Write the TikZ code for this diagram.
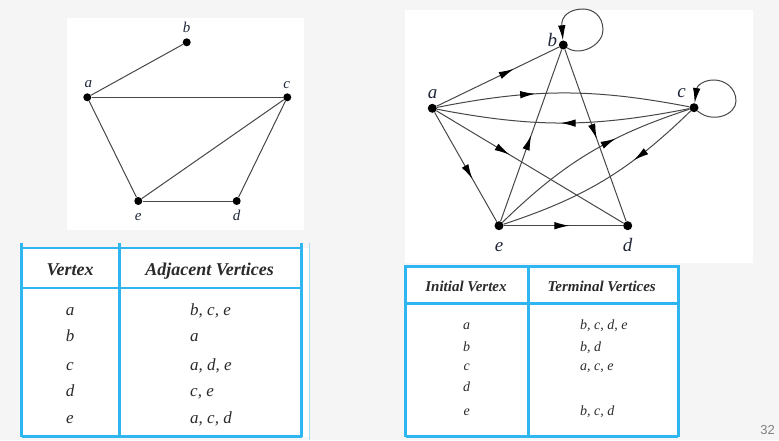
\documentclass[tikz,border=0pt]{standalone}
\usepackage{fontspec}
\setmainfont{Liberation Serif}
\newfontfamily\pgsans{Liberation Sans}
\usetikzlibrary{arrows.meta,decorations.markings}
\definecolor{bg}{HTML}{F5F5F5}
\definecolor{tblue}{HTML}{2FB5EF}
\definecolor{tblue2}{HTML}{A8DCF5}
\definecolor{edgec}{HTML}{474747}
\definecolor{lblc}{HTML}{1E2638}
\definecolor{txtc}{HTML}{2A2A2A}
\begin{document}
\begin{tikzpicture}[x=1pt,y=1pt,
  vtx/.style={circle,fill=black,inner sep=0pt,minimum size=8pt},
  vtxb/.style={circle,fill=black,inner sep=0pt,minimum size=9pt},
  edge/.style={color=edgec,line width=1pt},
  lbl/.style={font=\fontsize{15}{15}\selectfont\itshape,text=lblc,inner sep=0pt,anchor=base},
  lblb/.style={font=\fontsize{19}{19}\selectfont\itshape,text=lblc,inner sep=0pt,anchor=base},
  midarrow/.style={postaction={decorate},decoration={markings,mark=at position #1 with {\arrow[black]{Latex[length=15pt,width=7.5pt]}}}},
  tline/.style={draw=tblue,line width=2.5pt},
  thdL/.style={font=\fontsize{18}{18}\selectfont\bfseries\itshape,text=txtc,inner sep=0pt,anchor=base},
  tentL/.style={font=\fontsize{17}{17}\selectfont\itshape,text=txtc,inner sep=0pt,anchor=base},
  thdR/.style={font=\fontsize{15}{15}\selectfont\bfseries\itshape,text=txtc,inner sep=0pt,anchor=base},
  tentR/.style={font=\fontsize{14}{14}\selectfont\itshape,text=txtc,inner sep=0pt,anchor=base},
  loopend/.style={-{Latex[length=15pt,width=7.5pt,color=black]}}
]
\useasboundingbox (0,0) rectangle (779,440);
\fill[bg] (0,0) rectangle (779,440);
% panels
\fill[white] (67,210) rectangle (304,422);
\fill[white] (405,177) rectangle (753,430);

% ---------- undirected graph ----------
\node[vtx] (ua) at (87.3,342.7) {};
\node[vtx] (ub) at (186.7,397.7) {};
\node[vtx] (uc) at (287.3,342.7) {};
\node[vtx] (ue) at (138.3,239) {};
\node[vtx] (ud) at (236.7,239) {};
\draw[edge] (ua) -- (ub);
\draw[edge] (ua) -- (uc);
\draw[edge] (ua) -- (ue);
\draw[edge] (uc) -- (ue);
\draw[edge] (uc) -- (ud);
\draw[edge] (ue) -- (ud);
\node[lbl] (ula) at (88.3,352.3) {a};
\node[lbl] (ulb) at (186.7,407.3) {b};
\node[lbl] (ulc) at (286.7,351.7) {c};
\node[lbl] (ule) at (138.3,219.3) {e};
\node[lbl] (uld) at (236.7,219.3) {d};

% ---------- directed graph ----------
\node[vtxb] (da) at (432.3,331.7) {};
\node[vtxb] (db) at (563.3,395) {};
\node[vtxb] (dc) at (694,332.3) {};
\node[vtxb] (de) at (499,214.3) {};
\node[vtxb] (dd) at (627.7,214.3) {};
\draw[edge,midarrow=0.63] (da) -- (db);
\draw[edge,midarrow=0.39] (da) to[bend left=11] (dc);
\draw[edge,midarrow=0.51] (dc) to[bend left=11] (da);
\draw[edge,midarrow=0.39] (da) -- (dd);
\draw[edge,midarrow=0.61] (da) -- (de);
\draw[edge,midarrow=0.52] (db) -- (dd);
\draw[edge,midarrow=0.50] (de) -- (db);
\draw[edge,midarrow=0.64] (de) to[bend left=13] (dc);
\draw[edge,midarrow=0.34] (dc) to[bend left=13] (de);
\draw[edge,midarrow=0.55] (de) -- (dd);
\draw[edge,loopend] (db) .. controls (580,383) and (603,395) .. (603,410)
   .. controls (603,424) and (593,431) .. (583,431)
   .. controls (570,431) and (561,424) .. (db);
\draw[edge,loopend] (dc) .. controls (712,316) and (736,325) .. (736,339)
   .. controls (736,352) and (725,360) .. (714,360)
   .. controls (703,360) and (697,354) .. (dc);
\node[lblb] (dla) at (432.7,341.7) {a};
\node[lblb] (dlb) at (552.3,393.3) {b};
\node[lblb] (dlc) at (681.7,342.3) {c};
\node[lblb] (dle) at (499,188.3) {e};
\node[lblb] (dld) at (627.7,188.3) {d};

% ---------- left table ----------
\fill[white] (21.5,3.3) rectangle (309,192);
\draw[tline] (21.5,3.3) -- (21.5,197);
\draw[tline] (119.5,3.3) -- (119.5,197);
\draw[tline] (301.5,3.3) -- (301.5,197);
\draw[tline] (21.5,192) -- (301.5,192);
\draw[tline] (21.5,152) -- (301.5,152);
\draw[tline] (21.5,3.3) -- (301.5,3.3);
\draw[draw=tblue2,line width=1pt] (309.3,0) -- (309.3,197);
\node[thdL] (lh1) at (70,165) {Vertex};
\node[thdL] (lh2) at (209.7,165) {Adjacent Vertices};
\node[tentL] (l1a) at (70,125) {a};
\node[tentL] (l2a) at (70,98.3) {b};
\node[tentL] (l3a) at (70,70) {c};
\node[tentL] (l4a) at (70,43.3) {d};
\node[tentL] (l5a) at (70,16.7) {e};
\node[tentL,anchor=base west] (l1b) at (190,125) {b, c, e};
\node[tentL,anchor=base west] (l2b) at (190,98.3) {a};
\node[tentL,anchor=base west] (l3b) at (190,70) {a, d, e};
\node[tentL,anchor=base west] (l4b) at (190,43.3) {c, e};
\node[tentL,anchor=base west] (l5b) at (190,16.7) {a, c, d};

% ---------- right table ----------
\fill[white] (405.5,3.3) rectangle (678.3,173.5);
\draw[tline] (405.5,3.3) -- (405.5,175.5);
\draw[tline] (528.3,3.3) -- (528.3,175.5);
\draw[tline] (678.3,3.3) -- (678.3,175.5);
\draw[tline] (405.5,173.5) -- (678.3,173.5);
\draw[tline] (405.5,136.5) -- (678.3,136.5);
\draw[tline] (405.5,3.3) -- (678.3,3.3);
\node[thdR] (rh1) at (466,148.3) {Initial Vertex};
\node[thdR] (rh2) at (601.7,148.3) {Terminal Vertices};
\node[tentR] (r1a) at (466.7,111) {a};
\node[tentR] (r2a) at (466.7,89) {b};
\node[tentR] (r3a) at (466.7,70) {c};
\node[tentR] (r4a) at (466.7,49) {d};
\node[tentR] (r5a) at (466.7,24.5) {e};
\node[tentR,anchor=base west] (r1b) at (580,111) {b, c, d, e};
\node[tentR,anchor=base west] (r2b) at (580,89) {b, d};
\node[tentR,anchor=base west] (r3b) at (580,70) {a, c, e};
\node[tentR,anchor=base west] (r5b) at (580,24.5) {b, c, d};

% page number
\node[font=\pgsans\fontsize{13}{13}\selectfont,text=black!50,inner sep=0pt] (pg) at (767.5,10) {32};
\end{tikzpicture}
\end{document}
